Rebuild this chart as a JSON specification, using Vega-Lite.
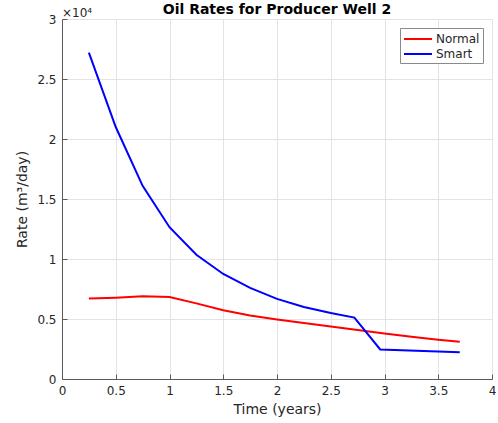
{
  "$schema": "https://vega.github.io/schema/vega-lite/v6.json",
  "width": 430,
  "height": 360,
  "autosize": {"type": "none"},
  "padding": {"left": 62, "top": 19, "right": 6, "bottom": 44},
  "background": "white",
  "config": {
    "font": "DejaVu Sans",
    "view": {"stroke": null},
    "axis": {
      "domainColor": "#5a5a5a",
      "tickColor": "#5a5a5a",
      "gridColor": "#e3e3e3",
      "labelColor": "#262626",
      "titleColor": "#262626",
      "labelFontSize": 12,
      "titleFontSize": 14,
      "titleFontWeight": "normal",
      "tickSize": -5,
      "labelPadding": 11,
      "labelFlush": false
    }
  },
  "title": {
    "text": "Oil Rates for Producer Well 2",
    "fontSize": 14,
    "fontWeight": "bold",
    "color": "#000000",
    "anchor": "middle",
    "frame": "group",
    "offset": -10
  },
  "data": {
    "values": [
      {"t": 0.25, "rate": 6700, "series": "Normal"},
      {"t": 0.5, "rate": 6780, "series": "Normal"},
      {"t": 0.75, "rate": 6900, "series": "Normal"},
      {"t": 1.0, "rate": 6840, "series": "Normal"},
      {"t": 1.25, "rate": 6300, "series": "Normal"},
      {"t": 1.5, "rate": 5730, "series": "Normal"},
      {"t": 1.75, "rate": 5300, "series": "Normal"},
      {"t": 2.0, "rate": 4960, "series": "Normal"},
      {"t": 2.25, "rate": 4670, "series": "Normal"},
      {"t": 2.5, "rate": 4380, "series": "Normal"},
      {"t": 2.75, "rate": 4080, "series": "Normal"},
      {"t": 3.0, "rate": 3800, "series": "Normal"},
      {"t": 3.25, "rate": 3520, "series": "Normal"},
      {"t": 3.5, "rate": 3280, "series": "Normal"},
      {"t": 3.7, "rate": 3110, "series": "Normal"},
      {"t": 0.25, "rate": 27200, "series": "Smart"},
      {"t": 0.5, "rate": 21000, "series": "Smart"},
      {"t": 0.75, "rate": 16100, "series": "Smart"},
      {"t": 1.0, "rate": 12650, "series": "Smart"},
      {"t": 1.25, "rate": 10350, "series": "Smart"},
      {"t": 1.5, "rate": 8750, "series": "Smart"},
      {"t": 1.75, "rate": 7600, "series": "Smart"},
      {"t": 2.0, "rate": 6680, "series": "Smart"},
      {"t": 2.25, "rate": 6000, "series": "Smart"},
      {"t": 2.5, "rate": 5500, "series": "Smart"},
      {"t": 2.72, "rate": 5120, "series": "Smart"},
      {"t": 2.96, "rate": 2460, "series": "Smart"},
      {"t": 3.7, "rate": 2230, "series": "Smart"}
    ]
  },
  "layer": [
    {
      "mark": {"type": "line", "strokeWidth": 2},
      "encoding": {
        "x": {
          "field": "t",
          "type": "quantitative",
          "scale": {"domain": [0, 4], "nice": false},
          "axis": {"values": [0, 0.5, 1, 1.5, 2, 2.5, 3, 3.5, 4], "format": "~g", "title": "Time (years)", "titlePadding": 6}
        },
        "y": {
          "field": "rate",
          "type": "quantitative",
          "scale": {"domain": [0, 30000], "nice": false},
          "axis": {
            "values": [0, 5000, 10000, 15000, 20000, 25000, 30000],
            "labelExpr": "format(datum.value / 10000, '~g')",
            "title": "Rate (m³/day)",
            "titlePadding": 7
          }
        },
        "color": {
          "field": "series",
          "type": "nominal",
          "scale": {"domain": ["Normal", "Smart"], "range": ["#ff0000", "#0000ff"]},
          "legend": {
            "title": null,
            "orient": "top-right",
            "offset": 9,
            "symbolType": "M-1,0H3",
            "symbolSize": 196,
            "symbolStrokeWidth": 2,
            "labelFontSize": 12,
            "labelOffset": 17,
            "labelColor": "#262626",
            "strokeColor": "#8a8a8a",
            "fillColor": "white",
            "padding": 3,
            "rowPadding": 1
          }
        }
      }
    },
    {
      "data": {"values": [{"t": 0, "rate": 30000, "label": "×10⁴"}]},
      "mark": {"type": "text", "align": "left", "baseline": "alphabetic", "dy": -2, "fontSize": 12, "color": "#262626"},
      "encoding": {
        "x": {"field": "t", "type": "quantitative"},
        "y": {"field": "rate", "type": "quantitative"},
        "text": {"field": "label"}
      }
    }
  ]
}
